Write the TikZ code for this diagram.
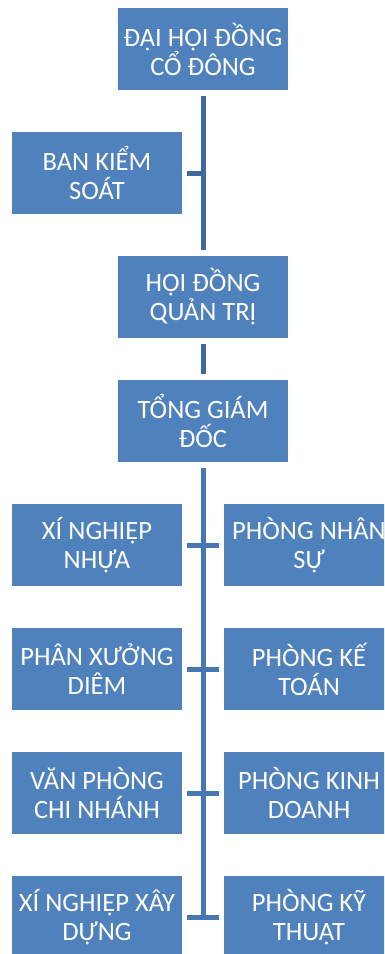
\documentclass[tikz,border=0pt]{standalone}
\usepackage{fontspec}
\setmainfont{Carlito}
\definecolor{boxblue}{HTML}{4F81BD}
\definecolor{linetop}{HTML}{41699C}
\definecolor{linebot}{HTML}{4777B2}
\begin{document}
\begin{tikzpicture}[x=1pt,y=-1pt,
  orgbox/.style={rectangle, fill=boxblue, draw=none, minimum width=170pt, minimum height=82pt,
    inner sep=0pt, align=center, text=white, font=\fontsize{26.5}{29}\selectfont},
  conn/.style={line width=5pt, line cap=butt}]
\useasboundingbox (0,0) rectangle (384,954);
\clip (0,0) rectangle (384,954);
\node[orgbox] (dh) at (203,49) {ĐẠI HỘI ĐỒNG\\CỔ ĐÔNG};
\node[orgbox] (bks) at (97,173) {BAN KIỂM\\SOÁT};
\node[orgbox] (hd) at (203,297) {HỘI ĐỒNG\\QUẢN TRỊ};
\node[orgbox] (tgd) at (203,421) {TỔNG GIÁM\\ĐỐC};
\node[orgbox] (l1) at (97,545) {XÍ NGHIỆP\\NHỰA};
\node[orgbox] (l2) at (97,669) {PHÂN XƯỞNG\\DIÊM};
\node[orgbox] (l3) at (97,793) {VĂN PHÒNG\\CHI NHÁNH};
\node[orgbox] (l4) at (97,917) {XÍ NGHIỆP XÂY\\DỰNG};
\node[orgbox] (r1) at (309,545) {PHÒNG NHÂN\\SỰ};
\node[orgbox] (r2) at (309,669) {PHÒNG KẾ\\TOÁN};
\node[orgbox] (r3) at (309,793) {PHÒNG KINH\\DOANH};
\node[orgbox] (r4) at (309,917) {PHÒNG KỸ\\THUẬT};
% top connectors
\draw[conn, linetop] ([yshift=-6pt]dh.south) -- ([yshift=6pt]hd.north);
\draw[conn, linetop] ([xshift=5pt]bks.east) -- (bks.east -| dh.south);
\draw[conn, linetop] ([yshift=-6pt]hd.south) -- ([yshift=6pt]tgd.north);
% bottom connectors
\coordinate (bend) at (203,919);
\draw[conn, linebot] ([yshift=-6pt]tgd.south) -- (bend);
\foreach \i in {1,2,3,4}{
  \draw[conn, linebot] ([xshift=5pt]l\i.east) -- ([xshift=-5pt]r\i.west);
}
\end{tikzpicture}
\end{document}
